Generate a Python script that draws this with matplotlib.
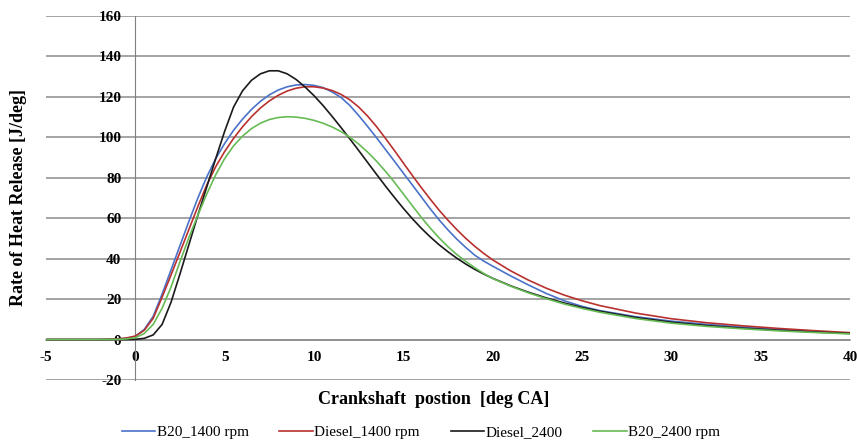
import matplotlib.pyplot as plt

# crank angle [deg CA]
crank = [-5, -2, -1, -0.5, 0, 0.5, 1, 1.5, 2, 2.5, 3, 3.5, 4, 4.5, 5, 5.5, 6,
         6.5, 7, 7.5, 8, 8.5, 9, 9.5, 10, 10.5, 11, 11.5, 12, 12.5, 13, 13.5,
         14, 14.5, 15, 15.5, 16, 16.5, 17, 17.5, 18, 18.5, 19, 19.5, 20, 21,
         22, 23, 24, 25, 26, 28, 30, 32, 34, 36, 38, 40]

b20_1400 = [0, 0, 0.2, 0.6, 1.6, 5, 11.5, 22.5, 34.5, 46.5, 58.5, 70, 80.5,
            89.5, 97, 103.5, 109, 113.8, 117.8, 121, 123.4, 125, 125.9, 126.1,
            125.7, 124.6, 122.5, 119.8, 115.8, 110.8, 105.4, 99.8, 94, 88.2,
            82.3, 76.5, 70.6, 64.7, 59.2, 54.2, 49.6, 45.5, 41.7, 38.8, 36.3,
            31.5, 27, 22.8, 19.2, 16.4, 14.3, 11.3, 9.1, 7.5, 6.1, 5, 3.9, 3.1]

diesel_1400 = [0, 0, 0.3, 0.8, 1.7, 4.6, 10.5, 21, 32, 43.2, 54.5, 65.8, 76.5,
               85.5, 93, 99.5, 105.2, 110.2, 114.5, 118, 120.8, 122.9, 124.3,
               125, 125, 124.4, 123.2, 121.3, 118.6, 115, 110.5, 105.3, 99.5,
               93.5, 87.3, 81.2, 75.2, 69.5, 64, 59, 54.3, 50, 46.1, 42.6, 39.4,
               34, 29.4, 25.4, 22, 19.2, 16.8, 13.1, 10.3, 8.3, 6.8, 5.5, 4.4,
               3.4]

diesel_2400 = [0, 0, 0, 0, 0.1, 0.6, 2.3, 7.5, 18.5, 32.5, 47, 61.5, 75.5,
               89.5, 103, 115, 123, 128.2, 131.4, 132.9, 132.9, 131.4, 128.6,
               124.9, 120.6, 115.8, 110.5, 105, 99.3, 93.5, 87.6, 81.7, 75.9,
               70.3, 64.9, 59.8, 55.1, 50.8, 46.9, 43.4, 40.2, 37.3, 34.7, 32.4,
               30.3, 26.6, 23.4, 20.6, 18.1, 15.9, 14, 10.9, 8.6, 6.9, 5.6, 4.6,
               3.7, 3]

b20_2400 = [0, 0, 0.1, 0.3, 0.9, 3, 7.5, 15.5, 26, 38.5, 50.5, 61.5, 72, 81.5,
            89.5, 95.8, 100.6, 104.3, 107, 108.8, 109.8, 110.2, 110, 109.4,
            108.4, 107, 105.2, 102.9, 100.1, 96.7, 92.7, 88.2, 83.2, 77.8, 72,
            66.2, 60.5, 55.2, 50.3, 45.9, 42, 38.6, 35.5, 32.7, 30.2, 26.4,
            23.1, 20.2, 17.6, 15.4, 13.5, 10.4, 8.1, 6.5, 5.3, 4.3, 3.5, 2.8]

SERIES = [
    ("B20_1400 rpm", b20_1400, "#4a72c8"),
    ("Diesel_1400 rpm", diesel_1400, "#b8312f"),
    ("Diesel_2400", diesel_2400, "#1a1a1a"),
    ("B20_2400 rpm", b20_2400, "#66bb55"),
]

y_ticks = [-20, 0, 20, 40, 60, 80, 100, 120, 140, 160]
x_ticks = [-5, 0, 5, 10, 15, 20, 25, 30, 35, 40]

plt.rcParams["font.family"] = ["Liberation Serif", "DejaVu Serif"]
plt.rcParams["axes.unicode_minus"] = False

fig = plt.figure(figsize=(8.57, 4.41), dpi=100)
ax = fig.add_axes([46 / 857, 1 - 380 / 441, 804 / 857, 364 / 441])

for label, values, color in SERIES:
    ax.plot(crank, values, color=color, linewidth=1.2, label=label, zorder=3)

ax.set_xlim(-5, 40)
ax.set_ylim(-20, 160)
ax.set_xticks(x_ticks)
ax.set_yticks(y_ticks)

for side in ["top", "right"]:
    ax.spines[side].set_visible(False)
ax.spines["left"].set_position(("data", 0))
ax.spines["bottom"].set_position(("data", 0))
ax.spines["left"].set_color("#808080")
ax.spines["bottom"].set_color("#8c8c8c")
ax.spines["bottom"].set_linewidth(1.1)

ax.grid(True, axis="y", color="#8c8c8c", linewidth=1.1)
ax.set_axisbelow(True)

ax.tick_params(axis="both", length=0, labelsize=11)
ax.tick_params(axis="x", pad=8)
ax.tick_params(axis="y", pad=10)
for lbl in ax.get_xticklabels() + ax.get_yticklabels():
    lbl.set_fontweight("bold")

fig.text(19 / 857, 1 - 197 / 441, "Rate of Heat Release [J/deg]",
         rotation=90, ha="center", va="center", fontsize=13, fontweight="bold")
fig.text(434 / 857, 1 - 400 / 441, "Crankshaft  postion  [deg CA]",
         ha="center", va="center", fontsize=13, fontweight="bold")

fig.legend(loc="center", bbox_to_anchor=(421 / 857, 1 - 432 / 441), ncol=4,
           frameon=False, fontsize=11, handlelength=2.2, handletextpad=0.1,
           columnspacing=2.0, borderpad=0)

fig.savefig("out.png", dpi=100)
